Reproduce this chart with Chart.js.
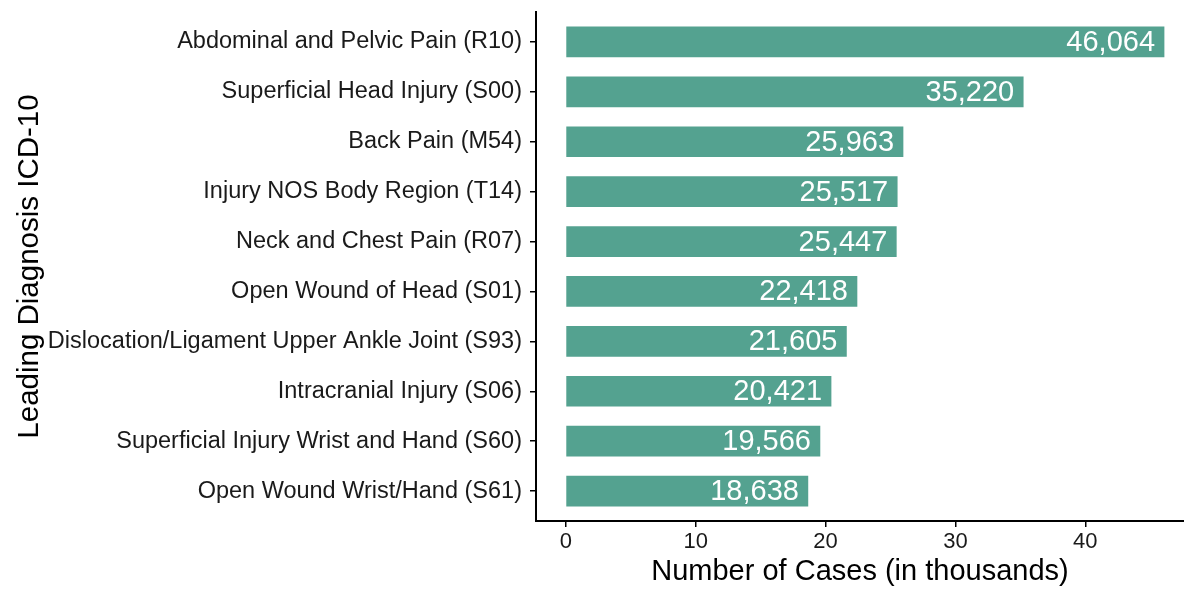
<!DOCTYPE html>
<html>
<head>
<meta charset="utf-8">
<script src="https://cdn.jsdelivr.net/npm/chart.js@4"></script>
<style>
    html, body { margin: 0; padding: 0; background: #ffffff; }
    #wrap { width: 1184px; height: 589px; }
</style>
</head>
<body>
<div id="wrap"><canvas id="diagChart" width="1184" height="589"></canvas></div>
<script>
/* ==========================================
   Leading diagnoses (ICD-10), cases in thousands
========================================== */

const diagnoses = [
    "Abdominal and Pelvic Pain (R10)",
    "Superficial Head Injury (S00)",
    "Back Pain (M54)",
    "Injury NOS Body Region (T14)",
    "Neck and Chest Pain (R07)",
    "Open Wound of Head (S01)",
    "Dislocation/Ligament Upper Ankle Joint (S93)",
    "Intracranial Injury (S06)",
    "Superficial Injury Wrist and Hand (S60)",
    "Open Wound Wrist/Hand (S61)"
];

const cases = [46064, 35220, 25963, 25517, 25447, 22418, 21605, 20421, 19566, 18638];

const xTicks = [0, 10, 20, 30, 40];

const FONT = "'Liberation Sans', Arial, Helvetica, sans-serif";
const BAR_COLOR = "#54A290";

const points = cases.map((v, i) => ({ x: v / 1000, y: i }));

// white value labels inside the end of each bar
const valueLabels = {
    id: "valueLabels",
    afterDatasetsDraw(chart) {
        const ctx = chart.ctx;
        const meta = chart.getDatasetMeta(0);
        ctx.save();
        ctx.font = "29px " + FONT;
        ctx.fillStyle = "#ffffff";
        ctx.textAlign = "right";
        ctx.textBaseline = "middle";
        meta.data.forEach((bar, i) => {
            ctx.fillText(cases[i].toLocaleString("en-US"), bar.x - 9, bar.y + 1);
        });
        ctx.restore();
    }
};

const ctx = document.getElementById("diagChart").getContext("2d");

new Chart(ctx, {

    type: "bar",

    data: {
        datasets: [{
            data: points,
            backgroundColor: BAR_COLOR,
            borderWidth: 0,
            barThickness: 30
        }]
    },

    options: {

        indexAxis: "y",
        responsive: false,
        animation: false,

        layout: {
            padding: { top: 12, right: 0, bottom: 0, left: 0 }
        },

        plugins: {
            legend: { display: false },
            tooltip: { enabled: false }
        },

        scales: {

            x: {
                type: "linear",
                min: -2.3,
                max: 47.6,
                afterBuildTicks(scale) {
                    scale.ticks = xTicks.map(v => ({ value: v }));
                },
                afterFit(scale) {
                    scale.height = 68;
                    scale.paddingLeft = 0;
                    scale.paddingRight = 0;
                },
                border: { display: true, color: "#000000", width: 2 },
                grid: {
                    display: true,
                    drawOnChartArea: false,
                    drawTicks: true,
                    tickLength: 6,
                    color: "#000000",
                    lineWidth: 1.5
                },
                ticks: {
                    color: "#1a1a1a",
                    padding: 2,
                    font: { family: FONT, size: 22 }
                },
                title: {
                    display: true,
                    text: "Number of Cases (in thousands)",
                    color: "#000000",
                    padding: { top: 0, bottom: 0 },
                    font: { family: FONT, size: 29 }
                }
            },

            y: {
                type: "linear",
                min: -0.6,
                max: 9.6,
                reverse: true,
                offset: false,
                afterBuildTicks(scale) {
                    scale.ticks = diagnoses.map((d, i) => ({ value: i }));
                },
                afterFit(scale) {
                    scale.width = 536;
                    scale.paddingTop = 0;
                    scale.paddingBottom = 0;
                },
                border: { display: true, color: "#000000", width: 2 },
                grid: {
                    display: true,
                    offset: false,
                    drawOnChartArea: false,
                    drawTicks: true,
                    tickLength: 6,
                    color: "#000000",
                    lineWidth: 1.5
                },
                ticks: {
                    color: "#1a1a1a",
                    padding: 8,
                    autoSkip: false,
                    font: { family: FONT, size: 23.5 },
                    callback: (v) => diagnoses[v]
                },
                title: {
                    display: true,
                    text: "Leading Diagnosis ICD-10",
                    color: "#000000",
                    padding: { top: 12, bottom: 0 },
                    font: { family: FONT, size: 29.5 }
                }
            }

        }

    },

    plugins: [valueLabels]

});
</script>
</body>
</html>
